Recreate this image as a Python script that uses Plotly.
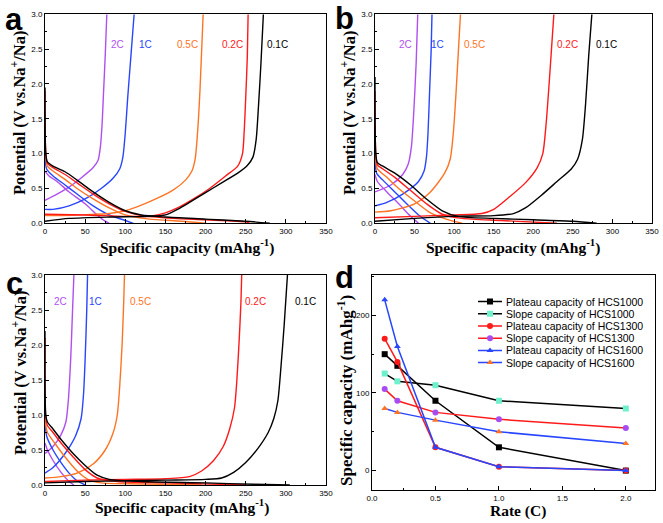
import plotly.graph_objects as go

W, H = 663, 523
rates = ["2C", "1C", "0.5C", "0.2C", "0.1C"]
rate_colors = {"2C": "#b04ff0", "1C": "#2846ff", "0.5C": "#ff7424", "0.2C": "#ff1a1a", "0.1C": "#000000"}

# ---- panel a (cap mAh/g, V) ----
a_charge = {
    "2C": ([0, 15, 30, 45, 60, 66, 69, 71, 73, 75, 77], [0.33, 0.42, 0.52, 0.65, 0.8, 0.9, 1.1, 1.4, 1.9, 2.4, 3.0]),
    "1C": ([0, 10, 30, 50, 70, 85, 93, 97, 100, 103, 107, 111], [0.2, 0.2, 0.25, 0.35, 0.5, 0.65, 0.78, 0.95, 1.3, 1.8, 2.4, 3.0]),
    "0.5C": ([0, 40, 80, 100, 120, 140, 160, 175, 183, 187, 190, 193, 197], [0.11, 0.12, 0.14, 0.18, 0.26, 0.36, 0.48, 0.62, 0.75, 0.92, 1.3, 1.9, 3.0]),
    "0.2C": ([0, 50, 100, 130, 150, 165, 185, 205, 225, 240, 246, 248, 250, 252, 253], [0.13, 0.12, 0.1, 0.1, 0.15, 0.22, 0.35, 0.5, 0.68, 0.82, 1.0, 1.3, 1.8, 2.4, 3.0]),
    "0.1C": ([0, 30, 80, 130, 150, 165, 180, 200, 220, 240, 252, 259, 263, 266, 269, 272], [0.03, 0.07, 0.09, 0.1, 0.12, 0.2, 0.3, 0.44, 0.58, 0.72, 0.83, 0.95, 1.2, 1.7, 2.3, 3.0]),
}
a_discharge = {
    "2C": ([0, 5, 15, 30, 50, 65, 75, 80], [0.75, 0.68, 0.6, 0.45, 0.28, 0.12, 0.03, 0.0]),
    "1C": ([0, 2, 10, 25, 40, 60, 80, 100, 110], [1.0, 0.78, 0.68, 0.55, 0.42, 0.25, 0.12, 0.04, 0.0]),
    "0.5C": ([0, 1, 3, 10, 25, 40, 60, 80, 100, 130, 170, 200], [1.6, 0.95, 0.82, 0.75, 0.63, 0.5, 0.35, 0.22, 0.12, 0.06, 0.03, 0.0]),
    "0.2C": ([0, 1, 3, 10, 25, 40, 60, 80, 100, 120, 160, 200, 250, 255], [1.9, 1.0, 0.86, 0.8, 0.7, 0.58, 0.42, 0.28, 0.17, 0.11, 0.07, 0.05, 0.02, 0.0]),
    "0.1C": ([0, 1, 3, 10, 25, 40, 60, 80, 100, 120, 150, 200, 250, 280], [1.95, 1.0, 0.88, 0.82, 0.74, 0.62, 0.45, 0.3, 0.18, 0.12, 0.09, 0.06, 0.03, 0.0]),
}
a_label_cap = [90, 125, 177, 233, 289]

# ---- panel b ----
b_charge = {
    "2C": ([0, 20, 35, 42, 46, 49, 52, 54], [0.45, 0.55, 0.7, 0.85, 1.1, 1.6, 2.3, 3.0]),
    "1C": ([0, 15, 35, 55, 62, 65, 67, 69, 71, 72], [0.25, 0.3, 0.42, 0.6, 0.75, 0.95, 1.3, 1.9, 2.5, 3.0]),
    "0.5C": ([0, 20, 50, 70, 88, 95, 99, 102, 105, 108], [0.16, 0.18, 0.28, 0.45, 0.72, 0.92, 1.3, 1.8, 2.4, 3.0]),
    "0.2C": ([0, 50, 100, 135, 150, 170, 190, 205, 212, 216, 220, 223, 226], [0.08, 0.1, 0.12, 0.14, 0.2, 0.38, 0.58, 0.8, 1.0, 1.4, 2.0, 2.5, 3.0]),
    "0.1C": ([0, 50, 100, 150, 175, 190, 210, 230, 248, 256, 262, 266, 270, 274], [0.03, 0.07, 0.1, 0.11, 0.14, 0.22, 0.4, 0.6, 0.78, 0.92, 1.2, 1.7, 2.4, 3.0]),
}
b_discharge = {
    "2C": ([0, 3, 15, 30, 45, 55], [0.7, 0.6, 0.45, 0.28, 0.1, 0.0]),
    "1C": ([0, 2, 10, 25, 40, 55, 70], [1.0, 0.72, 0.62, 0.45, 0.28, 0.12, 0.0]),
    "0.5C": ([0, 1, 3, 15, 30, 50, 70, 90, 110], [1.4, 0.9, 0.78, 0.66, 0.5, 0.32, 0.15, 0.06, 0.0]),
    "0.2C": ([0, 1, 3, 10, 25, 45, 65, 85, 110, 160, 230], [1.9, 1.0, 0.84, 0.78, 0.66, 0.47, 0.28, 0.13, 0.07, 0.04, 0.0]),
    "0.1C": ([0, 1, 3, 10, 25, 45, 65, 85, 105, 150, 200, 250, 280], [2.1, 1.0, 0.87, 0.82, 0.72, 0.55, 0.35, 0.18, 0.1, 0.07, 0.05, 0.03, 0.0]),
}
b_label_cap = [39, 79, 126, 243, 292]

# ---- panel c ----
c_charge = {
    "2C": ([0, 10, 20, 26, 29, 32, 34, 36], [0.45, 0.55, 0.72, 0.9, 1.2, 1.8, 2.4, 3.0]),
    "1C": ([0, 10, 25, 38, 45, 48, 50, 52, 53], [0.17, 0.25, 0.45, 0.7, 0.95, 1.3, 1.8, 2.5, 3.0]),
    "0.5C": ([0, 20, 40, 60, 75, 85, 90, 93, 96, 98, 99], [0.1, 0.12, 0.17, 0.3, 0.5, 0.75, 1.0, 1.4, 2.0, 2.6, 3.0]),
    "0.2C": ([0, 50, 100, 150, 180, 195, 210, 222, 230, 236, 239, 242, 244, 245], [0.05, 0.07, 0.08, 0.09, 0.12, 0.2, 0.35, 0.55, 0.8, 1.1, 1.5, 2.1, 2.6, 3.0]),
    "0.1C": ([0, 50, 100, 150, 200, 220, 235, 250, 265, 278, 285, 290, 294, 298, 302], [0.03, 0.05, 0.06, 0.07, 0.08, 0.1, 0.18, 0.32, 0.52, 0.75, 0.95, 1.2, 1.7, 2.3, 3.0]),
}
c_discharge = {
    "2C": ([0, 3, 10, 20, 30, 36], [0.6, 0.5, 0.35, 0.18, 0.05, 0.0]),
    "1C": ([0, 2, 10, 20, 30, 40, 50], [1.0, 0.7, 0.5, 0.32, 0.17, 0.06, 0.0]),
    "0.5C": ([0, 1, 3, 12, 25, 40, 55, 70, 120, 195], [1.3, 0.85, 0.75, 0.6, 0.4, 0.2, 0.07, 0.03, 0.015, 0.0]),
    "0.2C": ([0, 1, 3, 10, 20, 35, 50, 65, 90, 150, 250], [2.1, 0.95, 0.85, 0.75, 0.6, 0.4, 0.22, 0.1, 0.05, 0.03, 0.0]),
    "0.1C": ([0, 1, 3, 10, 20, 35, 50, 65, 80, 120, 200, 260, 305], [2.2, 1.0, 0.9, 0.8, 0.65, 0.45, 0.28, 0.14, 0.08, 0.05, 0.03, 0.01, 0.0]),
}
c_label_cap = [19, 63, 119, 262, 325]

# ---- panel d ----
rate_c = [0.1, 0.2, 0.5, 1.0, 2.0]
plateau_1000 = [150, 135, 90, 30, 0]
slope_1000 = [125, 115, 110, 90, 80]
plateau_1300 = [170, 140, 30, 5, 0]
slope_1300 = [105, 90, 75, 66, 55]
plateau_1600 = [220, 160, 30, 5, 0]
slope_1600 = [80, 75, 65, 50, 35]

d_series = [
    ("Plateau capacity of HCS1000", plateau_1000, "#000000", "#000000", "square"),
    ("Slope capacity of HCS1000", slope_1000, "#000000", "#6ef0cc", "square"),
    ("Plateau capacity of HCS1300", plateau_1300, "#ff1a1a", "#ff1a1a", "circle"),
    ("Slope capacity of HCS1300", slope_1300, "#ff1a1a", "#a64cf0", "circle"),
    ("Plateau capacity of HCS1600", plateau_1600, "#2846ff", "#2846ff", "triangle-up"),
    ("Slope capacity of HCS1600", slope_1600, "#2846ff", "#ff7424", "triangle-up"),
]

fig = go.Figure()

def px_x(p):
    return p / W

def px_y(p):
    return 1 - p / H

panels = [
    ("x", "y", a_charge, a_discharge, a_label_cap, 2.56),
    ("x2", "y2", b_charge, b_discharge, b_label_cap, 2.56),
    ("x3", "y3", c_charge, c_discharge, c_label_cap, 2.62),
]
for xa, ya, chg, dis, lab, ly in panels:
    for r in rates:
        for cx, cy in (dis[r], chg[r]):
            fig.add_trace(go.Scatter(x=cx, y=cy, mode="lines", xaxis=xa, yaxis=ya,
                                     line=dict(color=rate_colors[r], width=1.4, shape="spline", smoothing=0.7),
                                     showlegend=False, hoverinfo="skip"))
    for r, cp in zip(rates, lab):
        fig.add_annotation(x=cp, y=ly, xref=xa, yref=ya, text=r, showarrow=False,
                           font=dict(family="Liberation Sans, Arial", size=10, color=rate_colors[r]))

for name, vals, lc, mc, sym in d_series:
    fig.add_trace(go.Scatter(x=rate_c, y=vals, mode="lines+markers", name=name, xaxis="x4", yaxis="y4",
                             line=dict(color=lc, width=1.5), showlegend=False,
                             marker=dict(color=mc, symbol=sym, size=6, line=dict(width=0))))

# legend keys drawn on an auxiliary hidden axis pair (row index = y)
for i, (name, vals, lc, mc, sym) in enumerate(d_series):
    fig.add_trace(go.Scatter(x=[0, 0.5, 1], y=[i + 0.5] * 3, mode="lines", xaxis="x5", yaxis="y5",
                             line=dict(color=lc, width=1.5), showlegend=False, hoverinfo="skip"))
    fig.add_trace(go.Scatter(x=[0.5], y=[i + 0.5], mode="markers", xaxis="x5", yaxis="y5",
                             marker=dict(color=mc, symbol=sym, size=6, line=dict(width=0)),
                             showlegend=False, hoverinfo="skip"))
    fig.add_annotation(x=504 / W, y=i + 0.5, xref="paper", yref="y5", text=name, showarrow=False,
                       xanchor="left", yanchor="middle",
                       font=dict(family="Liberation Sans, Arial", size=10.5, color="#000"))

tickfont = dict(family="Liberation Sans, Arial", size=8, color="#000")
common = dict(showline=True, linecolor="#000", linewidth=1, mirror=True, ticks="inside", ticklen=4,
              tickcolor="#000", showgrid=False, zeroline=False, tickfont=tickfont, automargin=False)

def minor(d):
    return dict(ticks="inside", ticklen=2, tickcolor="#000", dtick=d)

def xcap(dom, anchor):
    return dict(common, domain=dom, anchor=anchor, range=[0, 350], dtick=50, tick0=0, minor=minor(25))

def ycap(dom, anchor):
    return dict(common, domain=dom, anchor=anchor, range=[0, 3.0], dtick=0.5, tick0=0, tickformat=".1f",
                minor=minor(0.25))

fig.update_layout(
    width=W, height=H, margin=dict(l=0, r=0, t=0, b=0),
    paper_bgcolor="white", plot_bgcolor="white",
    xaxis=xcap([px_x(45), px_x(326)], "y"),
    yaxis=ycap([px_y(223.3), px_y(14.3)], "x"),
    xaxis2=xcap([px_x(375), px_x(652)], "y2"),
    yaxis2=ycap([px_y(223.3), px_y(14.3)], "x2"),
    xaxis3=xcap([px_x(45), px_x(326)], "y3"),
    yaxis3=ycap([px_y(485), px_y(275)], "x3"),
    xaxis4=dict(common, domain=[px_x(372), px_x(655)], anchor="y4", range=[0, 2.23], dtick=0.5, tick0=0,
                tickformat=".1f", minor=minor(0.25)),
    yaxis4=dict(common, domain=[px_y(490), px_y(275)], anchor="x4", range=[-25, 252], dtick=100, tick0=0,
                minor=minor(50)),
    xaxis5=dict(domain=[px_x(478), px_x(502)], anchor="y5", range=[0, 1], visible=False, fixedrange=True),
    yaxis5=dict(domain=[px_y(368.7), px_y(295.5)], anchor="x5", range=[6, 0], visible=False, fixedrange=True),
    showlegend=False,
)

serif = "Liberation Serif, Times New Roman"
ytitle = "<b>Potential (V vs.Na<sup>+</sup>/Na)</b>"
xtitle = "<b>Specific capacity (mAhg<sup>-1</sup>)</b>"
axis_titles = [
    (xtitle, 187, 246, 0, 15.5), (ytitle, 19, 113, -90, 16.5),
    (xtitle, 513, 246, 0, 15.5), (ytitle, 349, 113, -90, 16.5),
    (xtitle, 182, 506, 0, 15.5), (ytitle, 19, 373, -90, 16.5),
    ("<b>Rate (C)</b>", 518, 511, 0, 15.5), (xtitle, 345, 391, -90, 17),
]
for t, x, y, ang, fs in axis_titles:
    fig.add_annotation(x=px_x(x), y=px_y(y), xref="paper", yref="paper", text=t, showarrow=False,
                       textangle=ang, font=dict(family=serif, size=fs, color="#000"),
                       xanchor="center", yanchor="middle")

for letter, x, y in [("a", 14, 20), ("b", 344, 18), ("c", 14, 283), ("d", 344, 277)]:
    fig.add_annotation(x=px_x(x), y=px_y(y), xref="paper", yref="paper", text="<b>%s</b>" % letter,
                       showarrow=False, font=dict(family="Liberation Sans, Arial", size=31, color="#000"),
                       xanchor="center", yanchor="middle")

fig.write_html("out.html", config={"displayModeBar": False},
               post_script="document.body.style.margin='0px';document.body.style.overflow='hidden';")
